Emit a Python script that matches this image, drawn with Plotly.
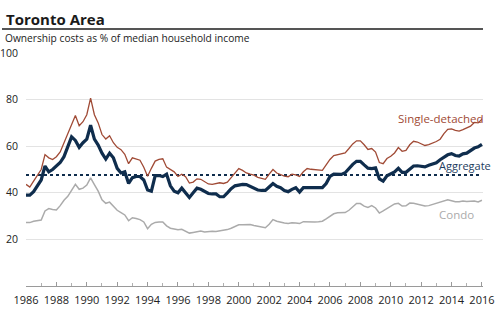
import plotly.graph_objects as go

start_year = 1986.0
n_quarters = 121
dates = [start_year + 0.25 * i for i in range(n_quarters)]

aggregate = [
    39, 39, 40.5, 43, 45.5, 51.5, 49, 50, 51.5, 53, 55.5, 59.5, 64, 62.5, 59.5, 61.5,
    63, 69, 63, 60.5, 57, 54.5, 57, 55, 50.5, 48.5, 49, 44, 46.5, 47, 47, 45.5,
    41.2, 40.7, 47.4, 47.4, 47, 48, 43, 40.7, 40, 42, 40, 38, 40, 42, 41.5, 40.5,
    39.7, 39.5, 39.5, 38.3, 38.3, 40, 41.8, 43, 43.4, 43.6, 43.5, 42.8, 42, 41.2, 41, 41,
    42.5, 44, 42.8, 42.2, 41, 40.5, 41.5, 42.2, 40.3, 42.2, 42.2, 42.2, 42.2, 42.2, 42.2, 44,
    47, 48, 48.1, 47.9, 48.6, 50.5, 52.2, 53.5, 53.5, 52, 50.6, 50.4, 50.7, 46, 45, 47.3,
    48.1, 49, 50.5, 48.8, 48.8, 50, 51.5, 51.6, 51.4, 51.1, 51.8, 52.4, 52.9, 54.2, 55.2, 56.3,
    56.8, 56, 55.8, 56.7, 57, 58.2, 59.2, 59.7, 60.8,
]

single_detached = [
    43.6, 42.5, 45, 47.5, 50, 56.4, 55, 54.3, 55.5, 57.5, 61.5, 65.5, 69.2, 73.2, 68.8, 70.5,
    73.5, 80.6, 73.5, 70, 65, 63.1, 64.5, 61.5, 59.5, 58.5, 56.5, 52.5, 55, 54.5, 54, 51,
    47.1, 50.5, 53.6, 54.3, 54.6, 51, 50, 49, 47, 48, 46.9, 44.2, 44.6, 46, 45.8, 44.8,
    43.8, 43.6, 44, 44.3, 44, 44.6, 46.5, 48.7, 50.4, 49.6, 48.5, 48, 47.6, 46.6, 46.2, 45.8,
    48, 50, 48.5, 47.8, 47.2, 46.9, 48, 47.7, 47, 49, 50.4, 50.1, 49.9, 49.7, 49.6, 52,
    54.3, 56, 56.4, 56.5, 57.1, 59, 61, 62.3, 62.3, 60.6, 58.6, 59, 57.5, 53, 52.5, 54.7,
    55.7, 57.1, 59.4, 57.8, 58.2, 60.6, 62.1, 61.8, 61, 60.3, 60.7, 61.3, 62, 63, 65.4, 67.2,
    67.4, 66.8, 66.5, 67.1, 67.7, 68.6, 70.2, 70, 71.6,
]

condo = [
    27.2, 27.2, 27.8, 28.2, 28.3, 32.2, 33.2, 32.8, 32.6, 34.5, 36.8, 38.5, 41, 43.6, 41.5, 42,
    43.3, 46.4, 43.5, 40.7, 37, 35.5, 36, 34, 32.5, 31.5, 30.5, 28, 29.3, 29, 28.5, 27.5,
    24.6, 26.5, 27.3, 27.5, 27.5, 25.8, 24.8, 24.5, 24.1, 24.3, 23.6, 22.7, 23, 23.4, 23.6, 23.2,
    23.5, 23.5, 23.4, 23.6, 23.8, 24.2, 24.8, 25.4, 26.3, 26.3, 26.3, 26.4, 26, 25.7, 25.3, 25,
    26.5, 28.5, 27.8, 27.3, 27, 26.8, 27.1, 27, 26.8, 27.6, 27.5, 27.5, 27.5, 27.6, 27.8, 28.8,
    30, 31, 31.4, 31.5, 31.5, 32.5, 34, 35.4, 35.4, 34.3, 33.7, 34.5, 33.5, 31.3, 32.2, 33.2,
    34, 35.2, 35.5, 34.3, 34.4, 35.6, 35.5, 35, 34.6, 34.3, 34.5, 35, 35.3, 35.7, 36.3, 37,
    36.6, 36.2, 36.2, 36.5, 36.3, 36.3, 36.5, 36.1, 36.8,
]

average_level = 47.6
x_ticks = list(range(1986, 2017, 2))
y_ticks = [20, 40, 60, 80, 100]

NAVY = "#0f2d4d"
RUST = "#a04a35"
GREY = "#ababab"
TXT = "#222222"
FONT = "Open Sans"

fig = go.Figure()
fig.add_trace(go.Scatter(x=[dates[0], dates[-1]], y=[average_level, average_level], mode="lines",
                         line=dict(color=NAVY, width=2, dash="dot"), hoverinfo="skip"))
fig.add_trace(go.Scatter(x=dates, y=condo, mode="lines", line=dict(color=GREY, width=1.5)))
fig.add_trace(go.Scatter(x=dates, y=single_detached, mode="lines", line=dict(color=RUST, width=1.3)))
fig.add_trace(go.Scatter(x=dates, y=aggregate, mode="lines", line=dict(color=NAVY, width=3.2)))

# Title, rule and subtitle (paper coordinates: plot spans px 26..483 x, 53..286 y)
def px_x(p):
    return (p - 26) / 457.0

def px_y(p):
    return (286 - p) / 233.0

fig.add_annotation(x=2013.3, y=71.7, text="Single-detached", showarrow=False,
                   font=dict(family=FONT, size=11.5, color=RUST))
fig.add_annotation(xref="paper", x=px_x(493), xanchor="right", y=51.9, text="Aggregate", showarrow=False,
                   font=dict(family=FONT, size=11, color="#1d3d5e"))
fig.add_annotation(x=2014.35, y=30.9, text="Condo", showarrow=False,
                   font=dict(family=FONT, size=11.5, color=GREY))

fig.add_annotation(xref="paper", yref="paper", x=px_x(4), y=px_y(19), xanchor="left", yanchor="middle",
                   text="<b>Toronto Area</b>", showarrow=False,
                   font=dict(family=FONT, size=15, color="#1a1a1a"))
fig.add_shape(type="line", xref="paper", yref="paper", x0=px_x(2), x1=px_x(483), y0=px_y(29), y1=px_y(29),
              line=dict(color="#555555", width=2))
fig.add_annotation(xref="paper", yref="paper", x=px_x(3), y=px_y(38), xanchor="left", yanchor="middle",
                   text="Ownership costs as % of median household income", showarrow=False,
                   font=dict(family=FONT, size=10.2, color=TXT))

fig.update_layout(
    width=496, height=323,
    margin=dict(l=26, r=13, t=53, b=37),
    paper_bgcolor="white", plot_bgcolor="white",
    showlegend=False,
    font=dict(family=FONT, size=10.5, color=TXT),
)
fig.update_xaxes(range=[1986, 2016.07], tickmode="array", tickvals=x_ticks,
                 ticktext=[str(t) for t in x_ticks], tickfont=dict(size=11),
                 showgrid=False, showline=True, linecolor="#9a9a9a", linewidth=1,
                 ticks="inside", ticklen=4, tickcolor="#9a9a9a", ticklabelstandoff=4,
                 minor=dict(dtick=1, ticks="inside", ticklen=3, tickcolor="#b0b0b0", showgrid=False),
                 zeroline=False, fixedrange=True, automargin=False)
fig.update_yaxes(range=[0, 100], tickmode="array", tickvals=y_ticks, tickfont=dict(size=10.5),
                 showgrid=True, gridcolor="#e3e3e3", gridwidth=1,
                 showline=False, zeroline=False, ticks="", ticklabelstandoff=7, automargin=False)

fig.write_html("out.html")
